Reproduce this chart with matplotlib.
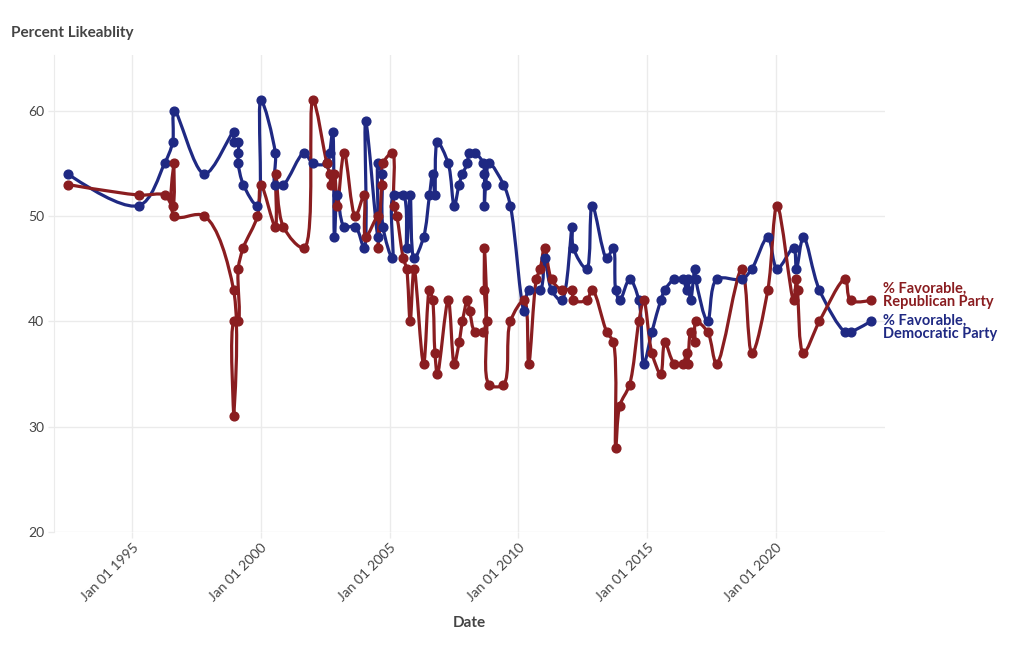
import matplotlib
matplotlib.use("Agg")
import matplotlib.pyplot as plt
import matplotlib.dates as mdates
from matplotlib.path import Path
from matplotlib.patches import PathPatch
import numpy as np
import pandas as pd

plt.rcParams['font.family'] = ['Lato', 'DejaVu Sans']

# poll dates and values
dem_dates = [
    '1992-07-02', '1995-04-08', '1996-04-05', '1996-07-28', '1996-08-22', '1997-10-23',
    '1998-12-13', '1998-12-13', '1999-02-14', '1999-02-14', '1999-02-14', '1999-04-27',
    '1999-11-14', '2000-01-01', '2000-07-24', '2000-07-24', '2000-11-14', '2001-09-06',
    '2002-01-08', '2002-07-24', '2002-09-02', '2002-10-16', '2002-11-10', '2002-12-20',
    '2003-03-28', '2003-09-02', '2004-01-05', '2004-01-26', '2004-07-20', '2004-07-20',
    '2004-09-09', '2004-09-27', '2005-02-10', '2005-02-28', '2005-07-13', '2005-08-29',
    '2005-10-19', '2005-12-13', '2006-04-27', '2006-07-20', '2006-09-02', '2006-10-05',
    '2006-11-10', '2007-04-12', '2007-07-06', '2007-09-13', '2007-10-30', '2008-01-08',
    '2008-02-03', '2008-04-27', '2008-08-22', '2008-09-06', '2008-09-06', '2008-09-24',
    '2008-11-14', '2009-06-03', '2009-09-09', '2010-03-25', '2010-05-27', '2010-11-06',
    '2011-01-08', '2011-04-16', '2011-09-06', '2012-02-03', '2012-02-17', '2012-08-26',
    '2012-11-14', '2013-06-07', '2013-09-09', '2013-10-12', '2013-12-09', '2014-04-27',
    '2014-09-06', '2014-11-14', '2015-03-10', '2015-07-13', '2015-09-09', '2016-01-23',
    '2016-05-23', '2016-07-13', '2016-07-31', '2016-09-09', '2016-11-06', '2016-11-21',
    '2017-05-08', '2017-09-13', '2018-09-06', '2019-01-26', '2019-09-09', '2020-01-19',
    '2020-09-09', '2020-10-19', '2021-01-26', '2021-09-09', '2022-09-09', '2022-11-25',
    '2023-09-06',
]
dem_values = [
    54, 51, 55, 57, 60, 54,
    58, 57, 57, 56, 55, 53,
    51, 61, 56, 53, 53, 56,
    55, 55, 56, 58, 48, 52,
    49, 49, 47, 59, 48, 55,
    54, 49, 46, 52, 52, 47,
    52, 46, 48, 52, 54, 52,
    57, 55, 51, 53, 54, 55,
    56, 56, 55, 54, 51, 53,
    55, 53, 51, 41, 43, 43,
    46, 43, 42, 49, 47, 45,
    51, 46, 47, 43, 42, 44,
    42, 36, 39, 42, 43, 44,
    44, 43, 44, 42, 45, 44,
    40, 44, 44, 45, 48, 45,
    47, 45, 48, 43, 39, 39,
    40,
]

rep_dates = [
    '1992-07-02', '1995-04-08', '1996-04-05', '1996-07-28', '1996-08-15', '1996-08-22',
    '1997-10-23', '1998-12-10', '1998-12-13', '1998-12-17', '1999-02-10', '1999-02-14',
    '1999-04-27', '1999-11-14', '2000-01-01', '2000-07-24', '2000-07-31', '2000-11-14',
    '2001-09-06', '2002-01-08', '2002-07-24', '2002-09-02', '2002-09-27', '2002-11-10',
    '2002-12-20', '2003-03-28', '2003-09-02', '2004-01-05', '2004-01-26', '2004-07-20',
    '2004-07-20', '2004-09-09', '2004-09-27', '2005-02-10', '2005-02-28', '2005-04-12',
    '2005-07-13', '2005-08-29', '2005-10-19', '2005-12-13', '2006-04-27', '2006-07-20',
    '2006-09-02', '2006-10-05', '2006-11-10', '2007-04-12', '2007-07-06', '2007-09-13',
    '2007-10-30', '2008-01-08', '2008-02-10', '2008-04-27', '2008-08-22', '2008-09-06',
    '2008-09-06', '2008-10-08', '2008-11-14', '2009-06-03', '2009-09-09', '2010-03-25',
    '2010-05-27', '2010-09-13', '2010-11-06', '2011-01-08', '2011-04-16', '2011-09-06',
    '2012-02-03', '2012-02-17', '2012-08-26', '2012-11-14', '2013-06-07', '2013-09-09',
    '2013-10-12', '2013-12-09', '2014-04-27', '2014-09-06', '2014-11-14', '2015-03-10',
    '2015-07-13', '2015-09-09', '2016-01-23', '2016-05-23', '2016-07-13', '2016-07-31',
    '2016-09-09', '2016-11-06', '2016-11-21', '2017-05-08', '2017-09-13', '2018-09-06',
    '2019-01-26', '2019-09-09', '2020-01-19', '2020-09-09', '2020-10-19', '2020-11-03',
    '2021-01-26', '2021-09-09', '2022-09-09', '2022-11-25', '2023-09-06',
]
rep_values = [
    53, 52, 52, 51, 55, 50,
    50, 43, 31, 40, 40, 45,
    47, 50, 53, 49, 54, 49,
    47, 61, 55, 54, 53, 54,
    51, 56, 50, 52, 48, 50,
    47, 53, 55, 56, 51, 50,
    46, 45, 40, 45, 36, 43,
    42, 37, 35, 42, 36, 38,
    40, 42, 41, 39, 39, 47,
    43, 40, 34, 34, 40, 42,
    36, 44, 45, 47, 44, 43,
    43, 42, 42, 43, 39, 38,
    28, 32, 34, 40, 42, 37,
    35, 38, 36, 36, 37, 36,
    39, 38, 40, 39, 36, 45,
    37, 43, 51, 42, 44, 43,
    37, 40, 44, 42, 42,
]

dem_color = '#1f2983'
rep_color = '#8a1d20'
grid_color = '#ebebeb'
text_color = '#444444'

x_min, x_max = pd.Timestamp('1991-12-20'), pd.Timestamp('2024-03-28')
y_min, y_max = 20, 65.3


def spline_path(xs, ys, sx, sy, smooth=1.0):
    # plotly-style catmull-rom smoothing, computed in (approx.) pixel space
    pts = np.column_stack([xs * sx, ys * sy])
    n = len(pts)
    tangents = []
    for i in range(1, n - 1):
        p0, p1, p2 = pts[i - 1], pts[i], pts[i + 1]
        d1 = p0 - p1
        d2 = p2 - p1
        d1a = np.hypot(*d1) ** 0.5
        d2a = np.hypot(*d2) ** 0.5
        num = (d2a * d2a * d1 - d1a * d1a * d2) * smooth
        den1 = d2a * 3 * (d1a + d2a)
        den2 = d1a * 3 * (d1a + d2a)
        t1 = p1 + (num / den1 if den1 else 0)
        t2 = p1 - (num / den2 if den2 else 0)
        tangents.append((t1, t2))
    verts = [pts[0], tangents[0][0], pts[1]]
    codes = [Path.MOVETO, Path.CURVE3, Path.CURVE3]
    for i in range(2, n - 1):
        verts += [tangents[i - 2][1], tangents[i - 1][0], pts[i]]
        codes += [Path.CURVE4] * 3
    verts += [tangents[n - 3][1], pts[n - 1]]
    codes += [Path.CURVE3] * 2
    verts = np.array(verts) / np.array([sx, sy])
    return Path(verts, codes)


fig = plt.figure(figsize=(10.2, 6.5), dpi=100)
ax = fig.add_axes([54 / 1020, 1 - 532 / 650, (885 - 54) / 1020, (532 - 55) / 650])

# pixel scales for the smoothing (px per day, px per percent)
sx = 25.8 / 365.25
sy = 10.52

for dates, vals, color in [(dem_dates, dem_values, dem_color),
                           (rep_dates, rep_values, rep_color)]:
    xd = mdates.date2num(pd.to_datetime(dates))
    yv = np.array(vals, dtype=float)
    path = spline_path(xd, yv, sx, sy)
    ax.add_patch(PathPatch(path, facecolor='none', edgecolor=color, lw=2.3,
                           capstyle='round', joinstyle='round', zorder=3))
    ax.plot(xd, yv, 'o', color=color, ms=6.3, zorder=4)

ax.set_xlim(x_min, x_max)
ax.set_ylim(y_min, y_max)
ax.set_yticks([20, 30, 40, 50, 60])
ax.xaxis.set_major_locator(mdates.YearLocator(5))
ax.xaxis.set_major_formatter(mdates.DateFormatter('%b %d %Y'))
ax.grid(True, color=grid_color, lw=1)
ax.set_axisbelow(True)
for s in ['top', 'right', 'bottom']:
    ax.spines[s].set_visible(False)
ax.spines['left'].set_color(grid_color)
ax.tick_params(axis='both', colors=grid_color, labelcolor=text_color,
               labelsize=10, length=4, width=1, pad=3)
for lbl in ax.get_xticklabels():
    lbl.set_rotation(45)
    lbl.set_ha('right')
    lbl.set_rotation_mode('anchor')

# end labels
ax.annotate('% Favorable,\nRepublican Party', xy=(mdates.date2num(pd.Timestamp(rep_dates[-1])), rep_values[-1]),
            xytext=(9, 3.5), textcoords='offset points', color=rep_color, fontsize=10.5,
            fontweight='bold', va='center', ha='left', linespacing=0.9, annotation_clip=False)
ax.annotate('% Favorable,\nDemocratic Party', xy=(mdates.date2num(pd.Timestamp(dem_dates[-1])), dem_values[-1]),
            xytext=(9, -4.5), textcoords='offset points', color=dem_color, fontsize=10.5,
            fontweight='bold', va='center', ha='left', linespacing=0.9, annotation_clip=False)

fig.text(11 / 1020, 1 - 33 / 650, 'Percent Likeablity', fontsize=11, fontweight='bold',
         color=text_color, va='center', ha='left')
fig.text(469.5 / 1020, 1 - 623 / 650, 'Date', fontsize=11, fontweight='bold',
         color=text_color, va='center', ha='center')

fig.savefig('out.png', dpi=100, facecolor='white')
